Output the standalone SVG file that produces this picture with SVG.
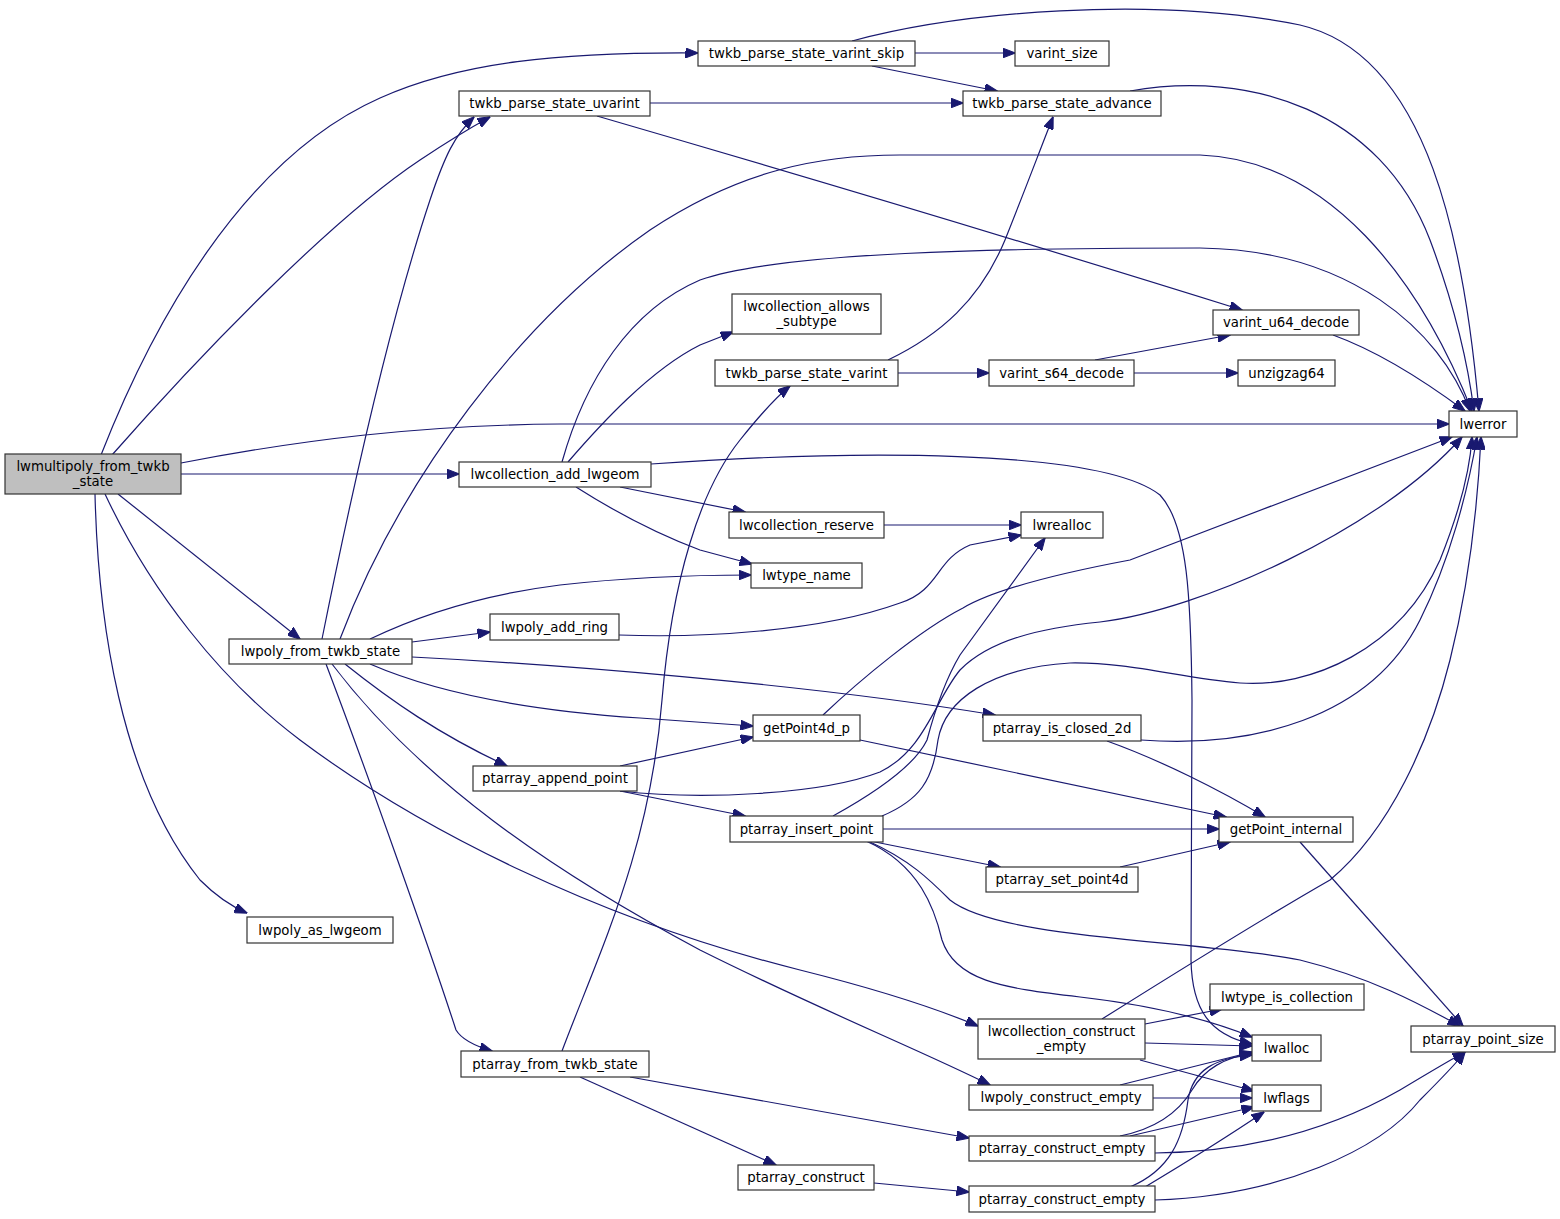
<svg xmlns="http://www.w3.org/2000/svg" width="1560" height="1219" viewBox="0 0 1560 1219">
<defs>
<style>
.node rect{fill:#ffffff;stroke:#333333;stroke-width:1.2}
.node.root rect{fill:#bfbfbf}
.node text{font-family:"DejaVu Sans","Liberation Sans",sans-serif;font-size:13.3px;text-anchor:middle;fill:#000}
.edges path{fill:none;stroke:#191970;stroke-width:1.2;marker-end:url(#arr)}
</style>
<marker id="arr" markerWidth="13" markerHeight="10" refX="12.5" refY="5" orient="auto" markerUnits="userSpaceOnUse">
<path d="M0,0 L13,5 L0,10 z" fill="#191970" stroke="#191970" stroke-width="1"/>
</marker>
</defs>
<rect x="0" y="0" width="1560" height="1219" fill="#ffffff"/>
<g class="edges" id="edges">
<path d="M101,455 C150,330 240,160 380,98 C460,62 560,52 698,53"/>
<path d="M112,455 C200,355 330,220 420,160 C450,140 470,128 490,117"/>
<path d="M181,463 C300,440 420,425 560,424 L1449,424"/>
<path d="M181,474 L459,474"/>
<path d="M118,494 L300,639"/>
<path d="M105,494 C150,590 220,680 300,740 C420,830 600,920 800,970 C880,990 940,1010 978,1026"/>
<path d="M95,494 C98,620 120,780 200,880 C220,900 235,908 247,913"/>
<path d="M915,53 L1015,53"/>
<path d="M872,66 L997,91"/>
<path d="M852,41 C960,12 1150,-5 1300,25 C1430,55 1465,250 1479,411"/>
<path d="M650,103 L963,103"/>
<path d="M597,116 C800,175 1050,250 1242,310"/>
<path d="M1130,91 C1250,70 1380,110 1430,240 C1460,320 1470,380 1474,411"/>
<path d="M322,639 C350,500 390,320 430,200 C445,155 455,135 474,117"/>
<path d="M340,639 C400,480 520,320 650,230 C740,170 820,155 900,155 L1200,155 C1330,160 1420,280 1472,411"/>
<path d="M370,639 C420,615 480,595 560,585 C640,576 700,575 751,575"/>
<path d="M412,642 L490,632"/>
<path d="M412,657 C550,664 800,683 995,715"/>
<path d="M370,664 C430,690 520,710 640,718 L753,726"/>
<path d="M345,664 C390,700 440,735 507,766"/>
<path d="M332,664 C420,780 550,870 700,950 C820,1010 920,1050 990,1085"/>
<path d="M326,664 C370,780 430,950 456,1030 C462,1040 475,1046 492,1051"/>
<path d="M562,462 C585,380 630,310 700,280 C780,252 1000,248 1200,248 C1350,250 1440,330 1470,411"/>
<path d="M568,462 C600,425 650,370 700,345 L733,332"/>
<path d="M651,464 C850,450 1100,448 1160,495 C1188,525 1191,600 1192,700 L1191,960 C1192,1010 1210,1035 1252,1044"/>
<path d="M620,487 L745,512"/>
<path d="M576,487 C620,515 660,535 700,550 L752,564"/>
<path d="M884,525 L1021,525"/>
<path d="M619,635 C700,638 820,632 900,603 C940,590 935,560 970,545 L1021,535"/>
<path d="M888,360 C940,335 980,300 1005,240 C1025,190 1040,150 1053,117"/>
<path d="M898,373 L989,373"/>
<path d="M1095,360 L1230,335"/>
<path d="M1134,373 L1238,373"/>
<path d="M1333,335 C1380,352 1430,385 1465,411"/>
<path d="M562,1051 C600,950 650,850 662,700 C672,580 700,490 740,440 C760,415 775,398 790,386"/>
<path d="M630,1077 L969,1138"/>
<path d="M580,1077 L776,1165"/>
<path d="M823,715 C860,680 920,630 963,608 C990,592 1050,575 1130,560 L1452,437"/>
<path d="M860,740 L1226,817"/>
<path d="M620,766 L753,737"/>
<path d="M620,791 C700,800 820,795 880,772 C925,750 935,700 960,670 C990,640 1040,628 1100,622 C1200,610 1380,530 1462,437"/>
<path d="M620,791 L745,816"/>
<path d="M833,816 C880,790 915,765 927,740 C935,710 945,680 960,655 L1045,538"/>
<path d="M882,816 C920,800 933,780 938,740 C945,700 990,668 1070,663 C1130,662 1180,678 1240,683 C1310,688 1400,650 1440,560 C1460,510 1470,470 1472,437"/>
<path d="M883,829 L1219,829"/>
<path d="M870,841 L1000,867"/>
<path d="M868,841 C910,860 930,880 950,900 C1000,940 1200,940 1300,960 C1380,980 1430,1010 1460,1026"/>
<path d="M866,841 C920,865 935,910 942,940 C955,980 1000,988 1080,997 C1150,1005 1210,1020 1252,1037"/>
<path d="M1141,740 C1250,748 1370,720 1420,620 C1450,560 1468,490 1477,437"/>
<path d="M1107,741 C1160,760 1220,790 1265,817"/>
<path d="M1120,867 L1230,842"/>
<path d="M1300,842 L1463,1026"/>
<path d="M1102,1019 C1180,970 1260,920 1330,880 C1390,830 1430,740 1450,660 C1470,580 1478,500 1481,437"/>
<path d="M1145,1024 L1222,1009"/>
<path d="M1145,1043 L1252,1046"/>
<path d="M1140,1060 L1254,1091"/>
<path d="M1120,1085 L1252,1052"/>
<path d="M1153,1098 L1252,1098"/>
<path d="M1120,1136 C1160,1128 1180,1110 1192,1090 C1205,1068 1225,1058 1252,1053"/>
<path d="M1130,1136 L1254,1107"/>
<path d="M1155,1153 C1250,1152 1330,1130 1400,1090 C1430,1072 1450,1060 1465,1052"/>
<path d="M874,1183 L969,1192"/>
<path d="M1130,1187 C1170,1170 1183,1140 1188,1100 C1193,1070 1215,1058 1252,1055"/>
<path d="M1145,1187 C1190,1160 1230,1135 1264,1112"/>
<path d="M1155,1200 C1280,1196 1380,1150 1420,1100 C1440,1080 1455,1065 1465,1052"/>
</g>
<g class="node root" id="n_lwmultipoly_from_twkb_state"><rect x="5" y="454" width="176" height="40"/><text x="93" y="471">lwmultipoly_from_twkb</text><text x="93" y="486">_state</text></g>
<g class="node" id="n_varint_skip"><rect x="698" y="41" width="217" height="25"/><text x="806.5" y="58">twkb_parse_state_varint_skip</text></g>
<g class="node" id="n_varint_size"><rect x="1015" y="41" width="94" height="25"/><text x="1062" y="58">varint_size</text></g>
<g class="node" id="n_uvarint"><rect x="459" y="91" width="191" height="25"/><text x="554.5" y="108">twkb_parse_state_uvarint</text></g>
<g class="node" id="n_advance"><rect x="963" y="91" width="198" height="25"/><text x="1062" y="108">twkb_parse_state_advance</text></g>
<g class="node" id="n_allows_subtype"><rect x="732" y="294" width="149" height="40"/><text x="806.5" y="311">lwcollection_allows</text><text x="806.5" y="326">_subtype</text></g>
<g class="node" id="n_u64_decode"><rect x="1213" y="310" width="146" height="25"/><text x="1286" y="327">varint_u64_decode</text></g>
<g class="node" id="n_varint"><rect x="715" y="360" width="183" height="26"/><text x="806.5" y="377.5">twkb_parse_state_varint</text></g>
<g class="node" id="n_s64_decode"><rect x="989" y="360" width="145" height="26"/><text x="1061.5" y="377.5">varint_s64_decode</text></g>
<g class="node" id="n_unzigzag64"><rect x="1238" y="360" width="97" height="26"/><text x="1286.5" y="377.5">unzigzag64</text></g>
<g class="node" id="n_lwerror"><rect x="1449" y="411" width="68" height="26"/><text x="1483" y="428.5">lwerror</text></g>
<g class="node" id="n_add_lwgeom"><rect x="459" y="462" width="192" height="25"/><text x="555" y="479">lwcollection_add_lwgeom</text></g>
<g class="node" id="n_reserve"><rect x="729" y="512" width="155" height="26"/><text x="806.5" y="529.5">lwcollection_reserve</text></g>
<g class="node" id="n_lwrealloc"><rect x="1021" y="512" width="82" height="26"/><text x="1062" y="529.5">lwrealloc</text></g>
<g class="node" id="n_lwtype_name"><rect x="751" y="563" width="111" height="25"/><text x="806.5" y="580">lwtype_name</text></g>
<g class="node" id="n_add_ring"><rect x="490" y="614" width="129" height="26"/><text x="554.5" y="631.5">lwpoly_add_ring</text></g>
<g class="node" id="n_lwpoly_from"><rect x="229" y="639" width="183" height="25"/><text x="320.5" y="656">lwpoly_from_twkb_state</text></g>
<g class="node" id="n_getPoint4d_p"><rect x="753" y="715" width="107" height="26"/><text x="806.5" y="732.5">getPoint4d_p</text></g>
<g class="node" id="n_is_closed_2d"><rect x="983" y="715" width="158" height="26"/><text x="1062" y="732.5">ptarray_is_closed_2d</text></g>
<g class="node" id="n_append_point"><rect x="473" y="766" width="164" height="25"/><text x="555" y="783">ptarray_append_point</text></g>
<g class="node" id="n_insert_point"><rect x="730" y="816" width="153" height="26"/><text x="806.5" y="833.5">ptarray_insert_point</text></g>
<g class="node" id="n_getPoint_internal"><rect x="1219" y="817" width="134" height="25"/><text x="1286" y="834">getPoint_internal</text></g>
<g class="node" id="n_set_point4d"><rect x="986" y="867" width="152" height="25"/><text x="1062" y="884">ptarray_set_point4d</text></g>
<g class="node" id="n_lwpoly_as_lwgeom"><rect x="247" y="917" width="146" height="26"/><text x="320" y="934.5">lwpoly_as_lwgeom</text></g>
<g class="node" id="n_lwtype_is_collection"><rect x="1210" y="984" width="154" height="26"/><text x="1287" y="1001.5">lwtype_is_collection</text></g>
<g class="node" id="n_coll_construct_empty"><rect x="978" y="1019" width="167" height="40"/><text x="1061.5" y="1036">lwcollection_construct</text><text x="1061.5" y="1051">_empty</text></g>
<g class="node" id="n_lwalloc"><rect x="1252" y="1035" width="69" height="26"/><text x="1286.5" y="1052.5">lwalloc</text></g>
<g class="node" id="n_ptarray_point_size"><rect x="1411" y="1026" width="144" height="26"/><text x="1483" y="1043.5">ptarray_point_size</text></g>
<g class="node" id="n_ptarray_from_twkb_state"><rect x="461" y="1051" width="188" height="26"/><text x="555" y="1068.5">ptarray_from_twkb_state</text></g>
<g class="node" id="n_lwpoly_construct_empty"><rect x="969" y="1085" width="184" height="25"/><text x="1061" y="1102">lwpoly_construct_empty</text></g>
<g class="node" id="n_lwflags"><rect x="1252" y="1085" width="69" height="26"/><text x="1286.5" y="1102.5">lwflags</text></g>
<g class="node" id="n_ptarray_construct_empty_1"><rect x="969" y="1136" width="186" height="25"/><text x="1062" y="1153">ptarray_construct_empty</text></g>
<g class="node" id="n_ptarray_construct"><rect x="738" y="1165" width="136" height="25"/><text x="806" y="1182">ptarray_construct</text></g>
<g class="node" id="n_ptarray_construct_empty_2"><rect x="969" y="1186" width="186" height="26"/><text x="1062" y="1203.5">ptarray_construct_empty</text></g>
</svg>
